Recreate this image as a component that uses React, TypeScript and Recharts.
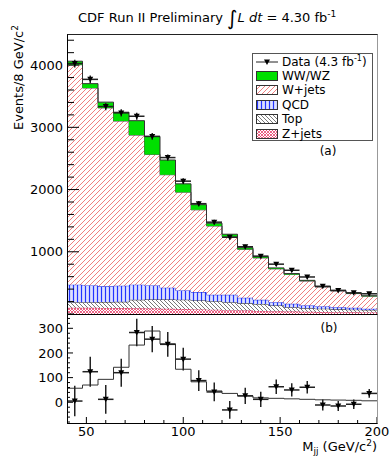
import React from 'react';
import { ComposedChart, Area, Line, Scatter, XAxis, YAxis, ErrorBar } from 'recharts';

// 8 GeV/c^2 bins, low edges
const binLow = [40, 48, 56, 64, 72, 80, 88, 96, 104, 112, 120, 128, 136, 144, 152, 160, 168, 176, 184, 192];
const binHalf = 4;
const xMax = 200;

// stacked backgrounds + signal (events per bin), bottom to top
const zJets = [100, 100, 98, 95, 92, 88, 84, 80, 74, 68, 62, 56, 50, 45, 40, 36, 32, 29, 27, 25];
const topQuark = [90, 90, 94, 100, 136, 145, 149, 150, 143, 138, 128, 116, 110, 91, 69, 56, 53, 46, 43, 41];
const qcd = [282, 270, 252, 260, 244, 227, 190, 149, 135, 103, 119, 89, 68, 54, 55, 44, 35, 34, 29, 17];
const wJets = [3534, 3172, 2868, 2646, 2403, 2105, 1815, 1579, 1322, 1105, 937, 778, 673, 535, 472, 393, 314, 261, 229, 204];
const wwWz = [57, 70, 93, 142, 232, 289, 237, 134, 83, 46, 36, 26, 18, 16, 14, 12, 10, 9, 8, 6];

// data
const dataCounts = [4025, 3771, 3334, 3232, 3178, 2854, 2514, 2135, 1773, 1476, 1233, 1081, 930, 801, 703, 595, 444, 379, 340, 325];
const dataMinusBkg = [5, 124, 12, 120, 283, 256, 235, 175, 88, 42, -31, 26, 12, 63, 50, 61, -11, -15, -8, 36];
const dataErr = [62, 61, 58, 57, 56, 53, 50, 46, 42, 38, 36, 33, 31, 29, 27, 25, 22, 20, 19, 18];

// axis ticks
const topYTicks = [0, 200, 400, 600, 800, 1000, 1200, 1400, 1600, 1800, 2000, 2200, 2400, 2600, 2800, 3000, 3200, 3400, 3600, 3800, 4000, 4200, 4400];
const topYLabels = [1000, 2000, 3000, 4000];
const lowYTicks = [-80, -60, -40, -20, 0, 20, 40, 60, 80, 100, 120, 140, 160, 180, 200, 220, 240, 260, 280, 300, 320, 340];
const lowYLabels = [0, 100, 200, 300];
const xTicks = [50, 60, 70, 80, 90, 100, 110, 120, 130, 140, 150, 160, 170, 180, 190, 200];
const xLabels = [50, 100, 150, 200];

const FONT = 'DejaVu Sans';

const stepRows = [...binLow, xMax].map((x, i) => {
  const j = Math.min(i, binLow.length - 1);
  return { x, zjets: zJets[j], top: topQuark[j], qcd: qcd[j], wjets: wJets[j], ww: wwWz[j] };
});
const topPoints = binLow.map((lo, i) => ({ x: lo + binHalf, y: dataCounts[i], ex: binHalf, ey: dataErr[i] }));
const lowPoints = binLow.map((lo, i) => ({ x: lo + binHalf, y: dataMinusBkg[i], ex: binHalf, ey: dataErr[i] }));

const yTick = (labels: number[], majorLen: number, minorLen: number) => (p: any) => {
  const v = p.payload.value;
  const major = labels.includes(v);
  return (
    <g>
      <line x1={p.x} x2={p.x + (major ? majorLen : minorLen)} y1={p.y} y2={p.y} stroke="#000" />
      {major && (
        <text x={p.x - 4} y={p.y + 4.7} textAnchor="end" fontSize={13} fontFamily={FONT} fill="#000">{v}</text>
      )}
    </g>
  );
};

const xTick = (p: any) => {
  const v = p.payload.value;
  const major = xLabels.includes(v);
  return (
    <g>
      <line x1={p.x} x2={p.x} y1={p.y} y2={p.y - (major ? 6 : 3)} stroke="#000" />
      {major && (
        <text x={p.x} y={p.y + 13} textAnchor="middle" fontSize={13} fontFamily={FONT} fill="#000">{v}</text>
      )}
    </g>
  );
};

const downTriangle = (p: any) => (
  <path d={`M${p.cx - 3},${p.cy - 2.5} L${p.cx + 3},${p.cy - 2.5} L${p.cx},${p.cy + 3} Z`} fill="#000" />
);

const Swatch = ({ fill }: { fill: string }) => (
  <svg width={22} height={10} style={{ display: 'block' }}>
    <rect x={0.5} y={0.5} width={21} height={9} fill={fill} stroke="#333" />
  </svg>
);

const legendRows = [
  { name: 'WW/WZ', fill: '#00e000' },
  { name: 'W+jets', fill: 'url(#hatchW)' },
  { name: 'QCD', fill: 'url(#hatchQ)' },
  { name: 'Top', fill: 'url(#hatchT)' },
  { name: 'Z+jets', fill: 'url(#hatchZ)' },
];

export default function App() {
  return (
    <div style={{ position: 'absolute', left: 0, top: 0, width: 391, height: 458, background: '#fff', fontFamily: FONT, overflow: 'hidden' }}>
      <svg width={0} height={0} style={{ position: 'absolute' }}>
        <defs>
          <pattern id="hatchW" patternUnits="userSpaceOnUse" width={5} height={5}>
            <rect width={5} height={5} fill="#fff" />
            <path d="M-1,1 L1,-1 M0,5 L5,0 M4,6 L6,4" stroke="#ee7070" strokeWidth={0.9} />
          </pattern>
          <pattern id="hatchQ" patternUnits="userSpaceOnUse" width={4} height={4}>
            <rect width={4} height={4} fill="#dde1ff" />
            <line x1={1.5} y1={0} x2={1.5} y2={4} stroke="#2233ff" strokeWidth={1.2} />
          </pattern>
          <pattern id="hatchT" patternUnits="userSpaceOnUse" width={4} height={4}>
            <rect width={4} height={4} fill="#fff" />
            <path d="M0,0 L4,4 M-1,3 L1,5 M3,-1 L5,1" stroke="#555" strokeWidth={0.8} />
          </pattern>
          <pattern id="hatchZ" patternUnits="userSpaceOnUse" width={3} height={3}>
            <rect width={3} height={3} fill="#fff" />
            <path d="M0,0 L3,3 M0,3 L3,0" stroke="#e8406a" strokeWidth={0.8} />
          </pattern>
        </defs>
      </svg>

      <div style={{ position: 'absolute', left: 0, top: 0 }}>
        <ComposedChart width={391} height={314} data={stepRows} margin={{ top: 34, right: 14, bottom: 0, left: 0 }}>
          <XAxis dataKey="x" type="number" domain={[40, 200]} hide allowDataOverflow />
          <YAxis type="number" domain={[0, 4500]} ticks={topYTicks} interval={0} width={67} tickSize={0} tickMargin={0}
            axisLine={false} tickLine={false} tick={yTick(topYLabels, 12, 7)} allowDataOverflow />
          <Area type="stepAfter" dataKey="zjets" stackId="s" fill="url(#hatchZ)" fillOpacity={1} stroke="#d0406a" dot={false} activeDot={false} isAnimationActive={false} />
          <Area type="stepAfter" dataKey="top" stackId="s" fill="url(#hatchT)" fillOpacity={1} stroke="#333" dot={false} activeDot={false} isAnimationActive={false} />
          <Area type="stepAfter" dataKey="qcd" stackId="s" fill="url(#hatchQ)" fillOpacity={1} stroke="#2233dd" dot={false} activeDot={false} isAnimationActive={false} />
          <Area type="stepAfter" dataKey="wjets" stackId="s" fill="url(#hatchW)" fillOpacity={1} stroke="#555" dot={false} activeDot={false} isAnimationActive={false} />
          <Area type="stepAfter" dataKey="ww" stackId="s" fill="#00e000" fillOpacity={1} stroke="#333" dot={false} activeDot={false} isAnimationActive={false} />
          <Scatter data={topPoints} dataKey="y" shape={downTriangle} isAnimationActive={false}>
            <ErrorBar dataKey="ex" direction="x" width={0} stroke="#222" />
            <ErrorBar dataKey="ey" direction="y" width={0} stroke="#222" />
          </Scatter>
        </ComposedChart>
      </div>

      <div style={{ position: 'absolute', left: 0, top: 314 }}>
        <ComposedChart width={391} height={144} data={stepRows} margin={{ top: 0, right: 14, bottom: 0, left: 0 }}>
          <XAxis dataKey="x" type="number" domain={[40, 200]} ticks={xTicks} interval={0} height={35} tickSize={0} tickMargin={0}
            axisLine={false} tickLine={false} tick={xTick} allowDataOverflow />
          <YAxis type="number" domain={[-84, 358]} ticks={lowYTicks} interval={0} width={67} tickSize={0} tickMargin={0}
            axisLine={false} tickLine={false} tick={yTick(lowYLabels, 6, 3)} allowDataOverflow />
          <Line type="stepAfter" dataKey="ww" stroke="#333" strokeWidth={1} dot={false} activeDot={false} isAnimationActive={false} />
          <Scatter data={lowPoints} dataKey="y" shape={downTriangle} isAnimationActive={false}>
            <ErrorBar dataKey="ex" direction="x" width={0} stroke="#222" />
            <ErrorBar dataKey="ey" direction="y" width={0} stroke="#222" />
          </Scatter>
        </ComposedChart>
      </div>

      {/* pad frames */}
      <div style={{ position: 'absolute', left: 67, top: 34, width: 311, height: 281, boxSizing: 'border-box', borderStyle: 'solid', borderWidth: 1, borderColor: '#222 #999 #000 #000' }} />
      <div style={{ position: 'absolute', left: 67, top: 314, width: 311, height: 110, boxSizing: 'border-box', borderStyle: 'solid', borderWidth: 1, borderColor: '#000 #999 #000 #000' }} />

      {/* legend */}
      <div style={{ position: 'absolute', left: 252, top: 53, width: 121, height: 88, boxSizing: 'border-box', border: '1px solid #555', background: '#fff', paddingTop: 0.5 }}>
        <div style={{ height: 14.4, display: 'flex', alignItems: 'center' }}>
          <svg width={22} height={10} style={{ marginLeft: 3 }}>
            <line x1={0} x2={22} y1={5} y2={5} stroke="#222" />
            <path d="M8,2.5 L14,2.5 L11,8 Z" fill="#000" />
          </svg>
          <span style={{ marginLeft: 4, fontSize: 12, whiteSpace: 'nowrap' }}>Data (4.3 fb<sup style={{ fontSize: 8 }}>-1</sup>)</span>
        </div>
        {legendRows.map((r) => (
          <div key={r.name} style={{ height: 14.4, display: 'flex', alignItems: 'center' }}>
            <div style={{ marginLeft: 3 }}><Swatch fill={r.fill} /></div>
            <span style={{ marginLeft: 4, fontSize: 12 }}>{r.name}</span>
          </div>
        ))}
      </div>

      {/* text */}
      <svg width={391} height={458} style={{ position: 'absolute', left: 0, top: 0, pointerEvents: 'none' }} fontFamily={FONT}>
        <text x={78} y={22} fontSize={13} fill="#000">
          CDF Run II Preliminary <tspan fontSize={20} dy={3}>∫</tspan>
          <tspan fontStyle="italic" dy={-3}>L dt</tspan> = 4.30 fb<tspan fontSize={9} dy={-5}>-1</tspan>
        </text>
        <text transform="translate(23,25) rotate(-90)" textAnchor="end" fontSize={13} fill="#000">
          Events/8 GeV/c<tspan fontSize={9} dy={-5}>2</tspan>
        </text>
        <text x={377} y={451} textAnchor="end" fontSize={13} fill="#000">
          M<tspan fontSize={9} dy={3}>jj</tspan><tspan dy={-3}> (GeV/c</tspan><tspan fontSize={9} dy={-5}>2</tspan><tspan dy={5}>)</tspan>
        </text>
        <text x={328} y={155} textAnchor="middle" fontSize={12} fill="#000">(a)</text>
        <text x={329} y={332} textAnchor="middle" fontSize={12} fill="#000">(b)</text>
      </svg>
    </div>
  );
}
